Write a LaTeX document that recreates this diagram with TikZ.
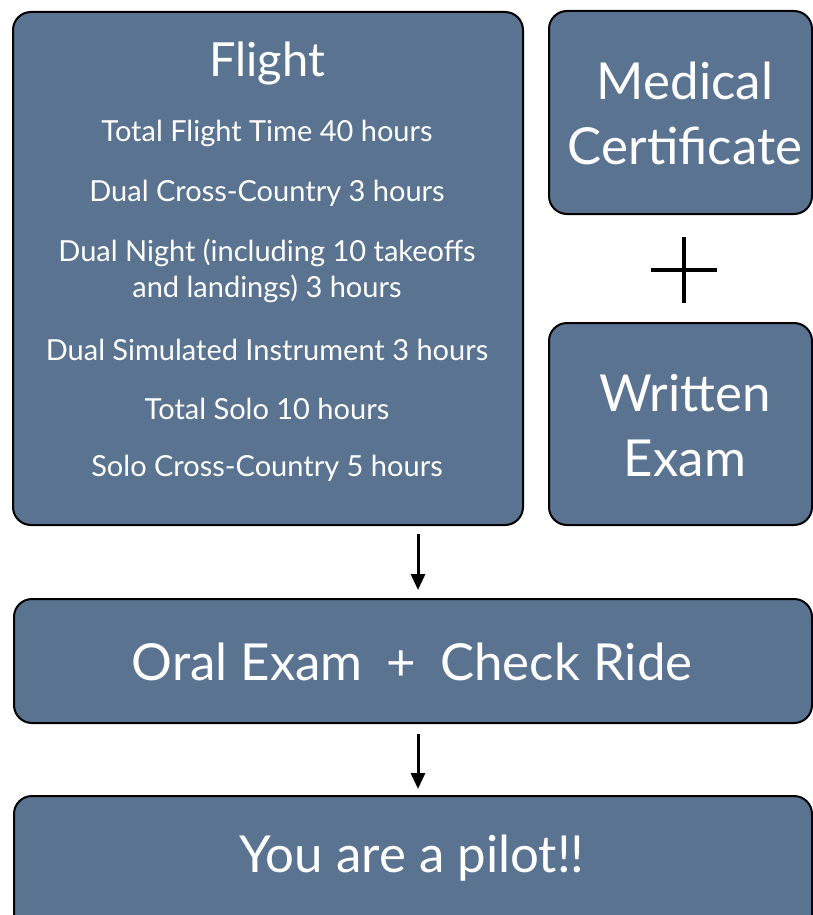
\documentclass[tikz,border=0pt]{standalone}
\usepackage{fontspec}
\setmainfont{Lato}
\usetikzlibrary{positioning,arrows.meta}
\definecolor{slate}{RGB}{90,115,145}
\tikzset{
    card/.style={draw=black, line width=2pt, fill=slate, rounded corners=18pt, anchor=north west, inner sep=0pt},
    bigtext/.style={text=white, font=\fontsize{51}{65}\selectfont, align=center},
    smalltext/.style={text=white, font=\fontsize{29}{36}\selectfont, align=center},
    flowarrow/.style={line width=3pt, -{Triangle[length=16pt,width=14pt]}}
}
\begin{document}
\begin{tikzpicture}[x=1pt,y=-1pt]
	\useasboundingbox (0,0) rectangle (813,915);
	\clip (0,0) rectangle (813,915);
	% boxes
	\node[card, minimum width=510pt, minimum height=513pt] (flight) at (12,11) {};
	\node[card, minimum width=263pt, minimum height=203pt] (medical) at (548,10) {};
	\node[card, minimum width=263pt, minimum height=202pt] (written) at (548,322) {};
	\node[card, minimum width=798pt, minimum height=124pt] (oral) at (13,598) {};
	\node[card, minimum width=798pt, minimum height=160pt] (pilot) at (13,795) {};
	% texts
	\node[bigtext, font=\fontsize{47}{56}\selectfont] (flighttitle) at (267,63) {Flight};
	\node[smalltext] (total) at (267,133) {Total Flight Time 40 hours};
	\node[smalltext] (dualcross) at (267,193) {Dual Cross-Country 3 hours};
	\node[smalltext] (night) at (267,271) {Dual Night (including 10 takeoffs\\and landings) 3 hours};
	\node[smalltext] (instrument) at (267,350) {Dual Simulated Instrument 3 hours};
	\node[smalltext] (solo) at (267,409) {Total Solo 10 hours};
	\node[smalltext] (solocross) at (267,468) {Solo Cross-Country 5 hours};
	\node[bigtext] (medicaltext) at (685,113) {Medical\\Certificate};
	\node[bigtext] (writtentext) at (685,426) {Written\\Exam};
	\node[bigtext] (oraltext) at (412,662) {Oral Exam\hspace{24pt}+\hspace{24pt}Check Ride};
	\node[bigtext] (pilottext) at (412,858) {You are a pilot!!};
	% plus between the two right boxes
	\coordinate (plus) at (684,270);
	\draw[line width=3.5pt] ([xshift=-33pt]plus) -- ([xshift=33pt]plus);
	\draw[line width=3.5pt] ([yshift=33pt]plus) -- ([yshift=-33pt]plus);
	% arrows
	\draw[flowarrow] ([yshift=-8pt]flight.south -| 418,0) -- ([yshift=8pt]oral.north -| 418,0);
	\draw[flowarrow] ([yshift=-10pt]oral.south -| 418,0) -- ([yshift=6pt]pilot.north -| 418,0);
\end{tikzpicture}
\end{document}
